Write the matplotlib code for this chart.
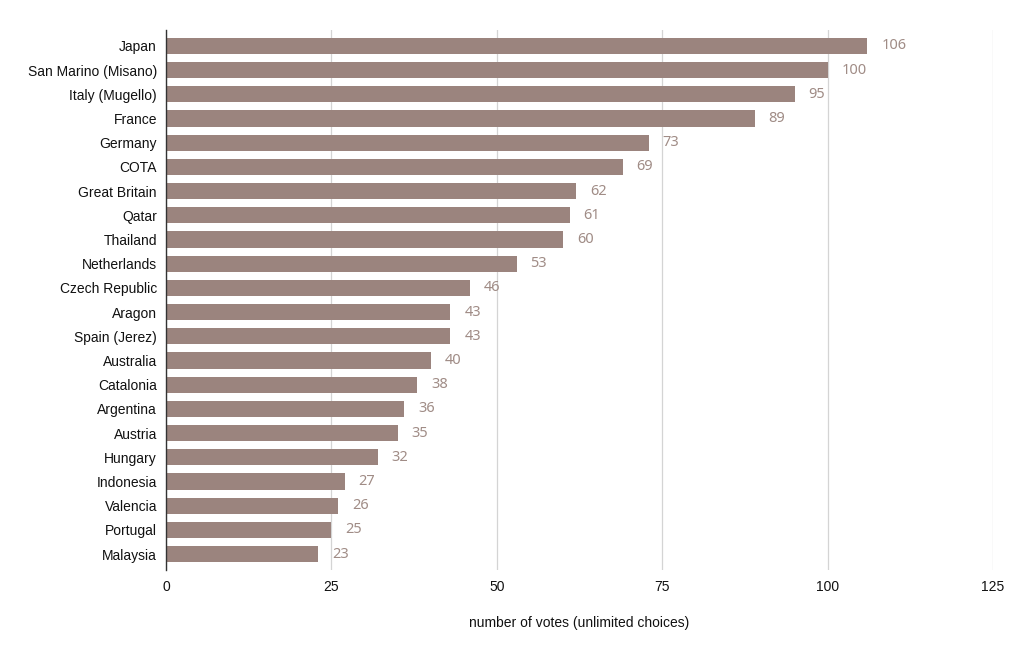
import matplotlib
matplotlib.use("Agg")
import matplotlib.pyplot as plt

categories = ["Japan", "San Marino (Misano)", "Italy (Mugello)", "France", "Germany", "COTA",
              "Great Britain", "Qatar", "Thailand", "Netherlands", "Czech Republic", "Aragon",
              "Spain (Jerez)", "Australia", "Catalonia", "Argentina", "Austria", "Hungary",
              "Indonesia", "Valencia", "Portugal", "Malaysia"]
votes = [106, 100, 95, 89, 73, 69, 62, 61, 60, 53, 46, 43, 43, 40, 38, 36, 35, 32, 27, 26, 25, 23]
xticks = [0, 25, 50, 75, 100, 125]

plt.rcParams['font.family'] = ['Liberation Sans', 'DejaVu Sans']
fig = plt.figure(figsize=(10.24, 6.55), dpi=100)
ax = fig.add_axes([166/1024, 1-570/655, (993-166)/1024, (570-30)/655])

bar_color = "#9b847e"
ypos = list(range(len(categories)))
ax.barh(ypos, votes, height=0.67, color=bar_color, zorder=3)
for y, v in zip(ypos, votes):
    ax.text(v + 2.1, y, str(v), va='center', ha='left', fontsize=10.5, color="#a08c86",
            family=['Noto Sans', 'DejaVu Sans'], zorder=4)

ax.set_yticks(ypos)
ax.set_yticklabels(categories, fontsize=10, color="#111111")
ax.set_ylim(21.66, -0.66)
ax.set_xlim(0, 125)
ax.set_xticks(xticks)
ax.set_xticklabels([str(t) for t in xticks], fontsize=10, color="#111111")
ax.grid(axis='x', color="#d4d4d4", linewidth=0.9, zorder=0)
for s in ['top', 'right', 'bottom']:
    ax.spines[s].set_visible(False)
ax.spines['left'].set_color('#333333')
ax.spines['left'].set_linewidth(1)
ax.spines['left'].set_zorder(5)
ax.tick_params(axis='y', length=0, pad=6.5)
ax.tick_params(axis='x', length=0, pad=7)
ax.set_xlabel("number of votes (unlimited choices)", fontsize=10, color="#111111", labelpad=16)

fig.savefig("out.png", dpi=100)
